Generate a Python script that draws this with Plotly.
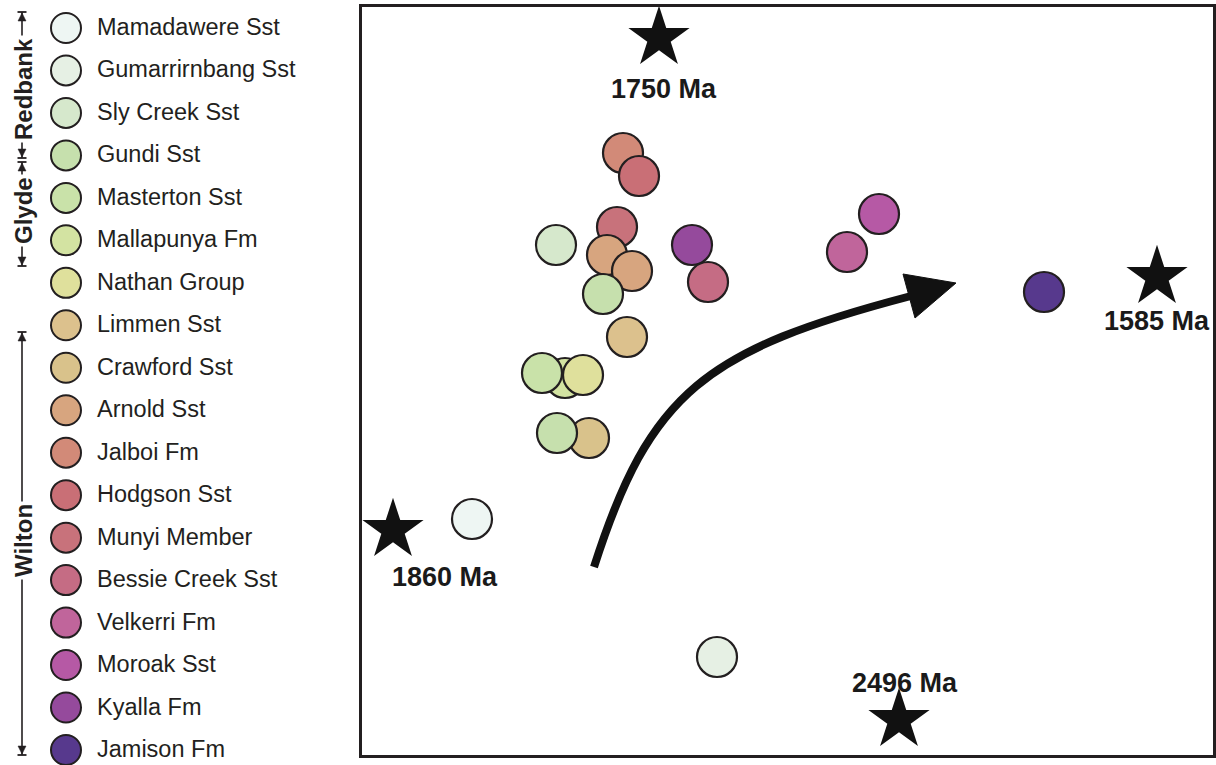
import plotly.graph_objects as go

W, H = 1216, 765

# Stratigraphic units (legend order, youngest at top) and their colours
units = [
    "Mamadawere Sst", "Gumarrirnbang Sst", "Sly Creek Sst", "Gundi Sst",
    "Masterton Sst", "Mallapunya Fm", "Nathan Group", "Limmen Sst",
    "Crawford Sst", "Arnold Sst", "Jalboi Fm", "Hodgson Sst",
    "Munyi Member", "Bessie Creek Sst", "Velkerri Fm", "Moroak Sst",
    "Kyalla Fm", "Jamison Fm",
]
unit_colors = [
    "#eef6f3", "#e6f0e4", "#d6e8cc", "#c6e0ad",
    "#c9e2a9", "#d3e3a2", "#dfe09c", "#dcc18d",
    "#d9c28b", "#d7a57f", "#d28a78", "#c96f76",
    "#c8727b", "#c56c84", "#c0659b", "#b659a5",
    "#954a9c", "#57398d",
]

# Super-basin groupings: (label, first unit index, last unit index)
groups = [("Redbank", 0, 2), ("Glyde", 3, 5), ("Wilton", 7, 17)]

# MDS sample positions (arbitrary units), drawn in this order
sample_unit = [
    "Jalboi Fm", "Hodgson Sst", "Munyi Member", "Arnold Sst", "Arnold Sst",
    "Sly Creek Sst", "Gundi Sst", "Limmen Sst", "Mallapunya Fm",
    "Masterton Sst", "Nathan Group", "Crawford Sst", "Gundi Sst",
    "Mamadawere Sst", "Gumarrirnbang Sst", "Kyalla Fm", "Bessie Creek Sst",
    "Velkerri Fm", "Moroak Sst", "Jamison Fm",
]
sample_x = [261, 277, 255, 245, 270, 194, 241, 265, 203, 180, 221, 227, 195,
            110, 355, 330, 346, 485, 517, 682]
sample_y = [602, 579, 528, 500, 484, 510, 461, 418, 377, 382, 380, 317, 322,
            236, 98, 510, 473, 503, 541, 463]

# Reference age end-members
ref_ages = ["1750 Ma", "1585 Ma", "1860 Ma", "2496 Ma"]
ref_x = [297, 795, 31, 537]
ref_y = [717, 478, 225, 35]
ref_label_shift = [(5, -51), (0, -44), (52, -47), (6, 37)]

# Trend arrow (cubic Bezier + head), in MDS units
arrow_curve = [(232, 188), (288, 363), (343, 405), (549, 459)]
arrow_head = [(541, 481), (594, 472), (553, 437)]

X_RANGE = [0, 851]
Y_RANGE = [0, 748]

color_of = dict(zip(units, unit_colors))

fig = go.Figure()

# Samples
fig.add_trace(go.Scatter(
    x=sample_x, y=sample_y, mode="markers",
    marker=dict(size=40, color=[color_of[u] for u in sample_unit],
                line=dict(color="#231f20", width=2.2), opacity=1),
    text=sample_unit, hoverinfo="text", showlegend=False,
    xaxis="x", yaxis="y", cliponaxis=False,
))

# Reference stars
fig.add_trace(go.Scatter(
    x=ref_x, y=ref_y, mode="markers",
    marker=dict(symbol="star", size=46, color="#111111", line=dict(width=0)),
    text=ref_ages, hoverinfo="text", showlegend=False,
    xaxis="x", yaxis="y", cliponaxis=False,
))

annotations = []
for lab, rx, ry, (dx, dy) in zip(ref_ages, ref_x, ref_y, ref_label_shift):
    annotations.append(dict(
        x=rx, y=ry, xref="x", yref="y", text=f"<b>{lab}</b>",
        showarrow=False, xshift=dx, yshift=dy,
        font=dict(family="Arial", size=27, color="#1a1a1a"),
        xanchor="center", yanchor="middle",
    ))

shapes = []
(p0, c1, c2, p3) = arrow_curve
shapes.append(dict(
    type="path", xref="x", yref="y",
    path=f"M {p0[0]},{p0[1]} C {c1[0]},{c1[1]} {c2[0]},{c2[1]} {p3[0]},{p3[1]}",
    line=dict(color="#111111", width=8), fillcolor="rgba(0,0,0,0)",
))
h = arrow_head
shapes.append(dict(
    type="path", xref="x", yref="y",
    path=f"M {h[0][0]},{h[0][1]} L {h[1][0]},{h[1][1]} L {h[2][0]},{h[2][1]} Z",
    line=dict(color="#111111", width=1), fillcolor="#111111",
))

# Legend panel (pixel-like coordinates on its own axes)
LEG_X0, LEG_Y0, LEG_DY = 66, 28, 42.47
leg_y = [LEG_Y0 + i * LEG_DY for i in range(len(units))]
fig.add_trace(go.Scatter(
    x=[LEG_X0] * len(units), y=leg_y, mode="markers",
    marker=dict(size=30, color=unit_colors,
                line=dict(color="#231f20", width=2)),
    text=units, hoverinfo="text", showlegend=False,
    xaxis="x2", yaxis="y2", cliponaxis=False,
))
for name, yy in zip(units, leg_y):
    annotations.append(dict(
        x=95, y=yy, xref="x2", yref="y2", text=name, showarrow=False,
        xanchor="left", yanchor="middle", yshift=1,
        font=dict(family="Arial", size=23.5, color="#231f20"),
    ))

# Group brackets
GX = 22
group_span = {"Redbank": (12, 158), "Glyde": (162, 266), "Wilton": (332, 755)}
group_label_y = {"Redbank": 89, "Glyde": 211, "Wilton": 541}
for name, i0, i1 in groups:
    top, bot = group_span[name]
    shapes.append(dict(type="line", xref="x2", yref="y2", x0=GX, x1=GX,
                       y0=top, y1=bot, line=dict(color="#231f20", width=1.6)))
    for yb, sgn in ((top, 1), (bot, -1)):
        shapes.append(dict(type="line", xref="x2", yref="y2", x0=GX - 4.5,
                           x1=GX + 4.5, y0=yb, y1=yb,
                           line=dict(color="#231f20", width=1.8)))
        shapes.append(dict(
            type="path", xref="x2", yref="y2",
            path=f"M {GX},{yb + sgn * 1} L {GX - 4},{yb + sgn * 9} "
                 f"L {GX + 4},{yb + sgn * 9} Z",
            fillcolor="#231f20", line=dict(color="#231f20", width=0.5),
        ))
    annotations.append(dict(
        x=GX + 1, y=group_label_y[name],
        xref="x2", yref="y2", text=f"<b>{name}</b>", showarrow=False,
        textangle=-90, bgcolor="white", borderpad=2,
        font=dict(family="Arial", size=24, color="#231f20"),
        xanchor="center", yanchor="middle",
    ))

fig.update_layout(
    width=W, height=H, margin=dict(l=0, r=0, t=0, b=0),
    paper_bgcolor="white", plot_bgcolor="white",
    showlegend=False, shapes=shapes, annotations=annotations,
    xaxis=dict(domain=[362 / W, 1213 / W], range=X_RANGE, visible=True,
               showgrid=False, zeroline=False, showticklabels=False,
               ticks="", showline=True, mirror=True, linecolor="#231f20",
               linewidth=2.5, fixedrange=True),
    yaxis=dict(domain=[10 / H, 758 / H], range=Y_RANGE, showgrid=False,
               zeroline=False, showticklabels=False, ticks="",
               showline=True, mirror=True, linecolor="#231f20",
               linewidth=2.5, fixedrange=True),
    xaxis2=dict(domain=[0, 350 / W], range=[0, 350], visible=False,
                fixedrange=True, anchor="y2"),
    yaxis2=dict(domain=[0, 1], range=[H, 0], visible=False,
                fixedrange=True, anchor="x2"),
)

fig.write_html("out.html")
